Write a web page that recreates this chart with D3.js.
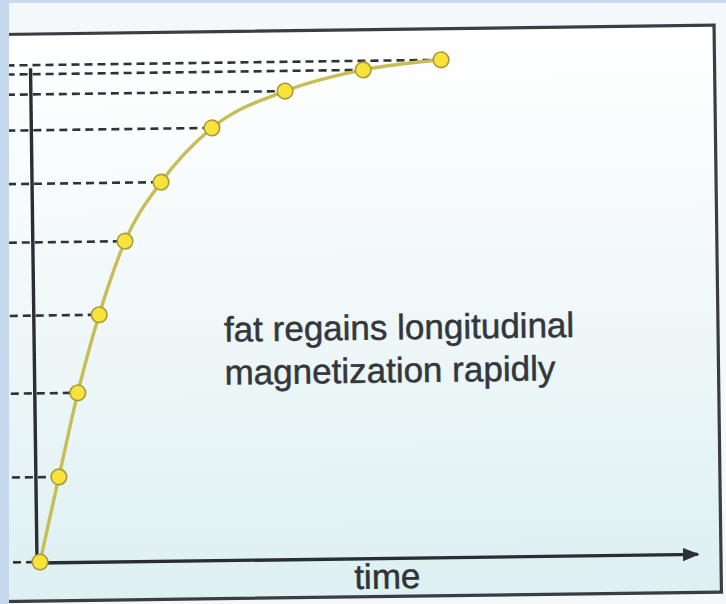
<!DOCTYPE html>
<html>
<head>
<meta charset="utf-8">
<script src="https://cdn.jsdelivr.net/npm/d3@7/dist/d3.min.js"></script>
<style>
html,body{margin:0;padding:0;background:#fff;}
svg{display:block;}
</style>
</head>
<body>
<script>
// Data (time in arbitrary units, longitudinal magnetization normalised 0..1)
const times = [0, 0.50, 1.00, 1.56, 2.23, 3.15, 4.44, 6.28, 8.24, 10.19];
const magnetization = [0, 0.168, 0.334, 0.488, 0.633, 0.749, 0.855, 0.926, 0.966, 0.984];
const xLabel = "time";
const annotationLines = ["fat regains longitudinal", "magnetization rapidly"];

const W = 726, H = 604;
const FONT = "'Liberation Sans', Arial, Helvetica, sans-serif";
const svg = d3.select("body").append("svg").attr("width", W).attr("height", H);

const defs = svg.append("defs");
const grad = defs.append("linearGradient").attr("id", "bg").attr("x1", 0).attr("y1", 0).attr("x2", 0).attr("y2", 1);
grad.append("stop").attr("offset", "0%").attr("stop-color", "#ffffff");
grad.append("stop").attr("offset", "35%").attr("stop-color", "#f5fafb");
grad.append("stop").attr("offset", "100%").attr("stop-color", "#def0f2");
defs.append("marker").attr("id", "arrow").attr("viewBox", "0 0 10 10").attr("refX", 9).attr("refY", 5)
  .attr("markerWidth", 5).attr("markerHeight", 5).attr("orient", "auto").attr("markerUnits", "strokeWidth")
  .append("path").attr("d", "M0,1 L10,5 L0,9 Z").attr("fill", "#2e3238");

// page background outside frame
svg.append("rect").attr("width", W).attr("height", H).attr("fill", "#f4f8fb");

// chart group, origin at (time 0, M 0), slightly tilted like the scanned original
const g = svg.append("g").attr("transform", "translate(40,562) rotate(-0.75)");

const x = d3.scaleLinear().domain([0, 10]).range([0, 400]);
const y = d3.scaleLinear().domain([0, 1]).range([0, -505]);

// frame
g.append("rect").attr("x", -60).attr("y", -528).attr("width", 741).attr("height", 567)
  .attr("fill", "url(#bg)").attr("stroke", "#3a3d42").attr("stroke-width", 3.2);

// dashed guide lines
g.append("g").selectAll("line").data(times.slice(1).map((t, i) => [t, magnetization[i + 1]]))
  .join("line")
  .attr("x1", -40).attr("x2", d => x(d[0]) - 6)
  .attr("y1", d => y(d[1])).attr("y2", d => y(d[1]))
  .attr("stroke", "#2f3338").attr("stroke-width", 2.6).attr("stroke-dasharray", "8,5");
// baseline stub
g.append("line").attr("x1", -40).attr("x2", -8).attr("y1", 0).attr("y2", 0)
  .attr("stroke", "#2f3338").attr("stroke-width", 2.6).attr("stroke-dasharray", "8,5");

// axes
g.append("line").attr("x1", x(0) - 3).attr("x2", x(0) - 3).attr("y1", 1).attr("y2", y(0.978))
  .attr("stroke", "#2a2e34").attr("stroke-width", 3.4);
g.append("line").attr("x1", x(0) - 4).attr("x2", x(16.45)).attr("y1", 1).attr("y2", 1)
  .attr("stroke", "#2a2e34").attr("stroke-width", 3.4).attr("marker-end", "url(#arrow)");

// curve
const pts = times.map((t, i) => [x(t), y(magnetization[i])]);
g.append("path").attr("d", d3.line().curve(d3.curveMonotoneX)(pts))
  .attr("fill", "none").attr("stroke", "#c7bd55").attr("stroke-width", 3.4);

// points
g.append("g").selectAll("circle").data(pts).join("circle")
  .attr("cx", d => d[0]).attr("cy", d => d[1]).attr("r", 7.8)
  .attr("fill", "#f8e33a").attr("stroke", "#a89a3c").attr("stroke-width", 1.6);

// texts
g.append("text").attr("x", 314).attr("y", 31).style("font-family", FONT)
  .attr("font-size", 35).attr("fill", "#2f3338")
  .attr("stroke", "#2f3338").attr("stroke-width", 0.5).text(xLabel);
const ann = g.append("text").style("font-family", FONT)
  .attr("font-size", 35).attr("fill", "#33373c")
  .attr("stroke", "#33373c").attr("stroke-width", 0.5);
annotationLines.forEach((s, i) => {
  ann.append("tspan").attr("x", 187).attr("y", -218 + i * 43).text(s);
});

// blue side strips (slide background)
svg.append("rect").attr("x", 0).attr("y", 0).attr("width", W).attr("height", 3).attr("fill", "#c9dcef");
svg.append("rect").attr("x", 0).attr("y", 0).attr("width", 9).attr("height", H).attr("fill", "#c5d8ee");
</script>
</body>
</html>
